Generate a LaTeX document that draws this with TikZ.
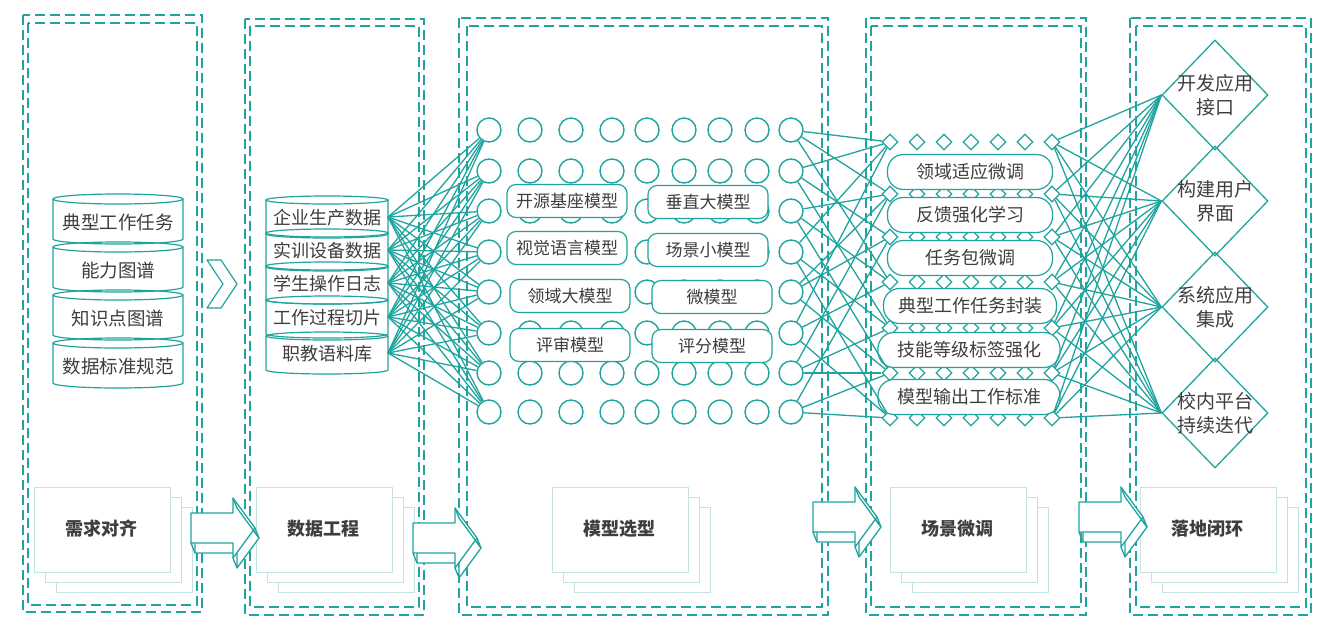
\documentclass[tikz,border=0pt]{standalone}
\usepackage{fontspec}
\setmainfont{Noto Sans CJK SC}
\usetikzlibrary{shapes.geometric}
\definecolor{teal1}{RGB}{32,164,159}
\definecolor{pagec}{RGB}{196,228,227}
\definecolor{txt}{RGB}{62,62,62}
\tikzset{
  panelbox/.style={draw=teal1, line width=1.8pt, dash pattern=on 10pt off 5pt},
  circ/.style={circle, draw=teal1, line width=1.4pt, fill=white, minimum size=24pt, inner sep=0pt},
  modelbox/.style={draw=teal1, line width=1.2pt, fill=white, rounded corners=9pt, minimum width=120pt, minimum height=33pt, inner sep=0pt, font=\fontsize{17}{20}\selectfont, text=txt},
  smalldia/.style={diamond, draw=teal1, line width=1.2pt, fill=white, minimum width=16pt, minimum height=16pt, inner sep=0pt},
  tunebox/.style={draw=teal1, line width=1.2pt, fill=white, rounded corners=16pt, minimum height=35pt, inner sep=0pt, font=\fontsize{18}{20}\selectfont, text=txt},
  link/.style={draw=teal1, line width=1.3pt},
  page/.style={draw=pagec, line width=1pt, fill=white},
  stagelabel/.style={font=\bfseries\fontsize{18}{20}\selectfont, text=txt},
  cyltext/.style={font=\fontsize{18.5}{20}\selectfont, text=txt, inner sep=0pt},
  cylline/.style={draw=teal1, line width=1.2pt},
  bigdia/.style={diamond, draw=teal1, line width=1.3pt, minimum width=106pt, minimum height=110pt, inner sep=0pt},
  diatext/.style={font=\fontsize{19}{24}\selectfont, text=txt, align=center, inner sep=0pt},
  arrowline/.style={draw=teal1, line width=1.3pt, line join=round}
}
\newcommand\blockarrow[2]{%
  \begin{scope}[shift={(#1,#2)}]
    \draw[arrowline, fill=white] (4,-5) -- (46,-5) -- (46,-20) -- (68,10) -- (46,40) -- (46,25) -- (4,25) -- cycle;
    \draw[arrowline, fill=white] (0,-15) -- (42,-15) -- (42,-30) -- (64,0) -- (42,30) -- (42,15) -- (0,15) -- cycle;
    \draw[arrowline] (0,15) -- (4,25) (42,30) -- (46,40) (64,0) -- (68,10) (42,-30) -- (46,-20) -- (68,10);
  \end{scope}}
\begin{document}
\begin{tikzpicture}[x=1pt,y=-1pt]
\useasboundingbox (0,0) rectangle (1332,630);
\fill[white] (0,0) rectangle (1332,630);

% panels
\foreach \ox/\oy/\oX/\oY/\ix/\iy/\iX/\iY in {23/15/202/612/28/23/197/605, 245/19/424/615/250/26/419/607, 459/18/828/615/467/26/822/607, 866/18/1086/615/871/26/1081/607, 1130/18/1311/615/1136/26/1306/607}
{
  \draw[panelbox] (\ox,\oy) rectangle (\oX,\oY);
  \draw[panelbox] (\ix,\iy) rectangle (\iX,\iY);
}

% page stacks
\foreach \x/\y/\t [count=\i] in {34/487/需求对齐, 256/487/数据工程, 552/487/模型选型, 890/487/场景微调, 1140/487/落地闭环}
{
  \draw[page] ({\x+22},{\y+20}) rectangle ++(136,85);
  \draw[page] ({\x+11},{\y+10}) rectangle ++(136,85);
  \draw[page] (\x,\y) rectangle ++(136,85);
  \node[stagelabel] (stage\i) at ({\x+67},{\y+42}) {\t};
}

% panel 1 cylinders
\foreach \yc/\t [count=\i] in {220/典型工作任务, 268/能力图谱, 316/知识点图谱, 364/数据标准规范}
{
  \draw[cylline] (53,{\yc-21}) -- (53,{\yc+19}) arc[start angle=180, end angle=0, x radius=65, y radius=5] -- (183,{\yc-21});
  \draw[cylline] (118,{\yc-21}) ellipse[x radius=65, y radius=5];
  \node[cyltext] (req\i) at (118,{\yc+2}) {\t};
}

% panel 2 cylinders
\foreach \yc/\t [count=\i] in {217/企业生产数据, 250/实训设备数据, 283/学生操作日志, 317/工作过程切片, 353/职教语料库}
{
  \draw[cylline] (266,{\yc-17}) -- (266,{\yc+17}) arc[start angle=180, end angle=0, x radius=61, y radius=4] -- (388,{\yc-17});
  \draw[cylline] (327,{\yc-17}) ellipse[x radius=61, y radius=4];
  \node[cyltext, font=\fontsize{18}{20}\selectfont] (dat\i) at (327,{\yc+1}) {\t};
  \coordinate (dat\i r) at (388,\yc);
}

% circle grid
\foreach \y [count=\ri] in {130,171,211,252,292,333,373,412}
  \foreach \x [count=\ci] in {489,530,571,612,647,684,720,757,791}
    \node[circ] (c-\ri-\ci) at (\x,\y) {};

% model boxes
\node[modelbox] (mb1) at (567,201) {开源基座模型};
\node[modelbox] (mb2) at (708,202) {垂直大模型};
\node[modelbox] (mb3) at (567,248) {视觉语言模型};
\node[modelbox] (mb4) at (708,250) {场景小模型};
\node[modelbox] (mb5) at (570,296) {领域大模型};
\node[modelbox] (mb6) at (712,297) {微模型};
\node[modelbox] (mb7) at (570,345) {评审模型};
\node[modelbox] (mb8) at (712,346) {评分模型};

% diamond grid panel 4
\foreach \y [count=\ri] in {142,194,237,282,328,373,418}
  \foreach \x [count=\ci] in {890,917,944,971,998,1025,1052}
    \node[smalldia] (q-\ri-\ci) at (\x,\y) {};

% tuning boxes
\node[tunebox, minimum width=165pt] (tb1) at (970,172) {领域适应微调};
\node[tunebox, minimum width=165pt] (tb2) at (970,215) {反馈强化学习};
\node[tunebox, minimum width=165pt] (tb3) at (970,258) {任务包微调};
\node[tunebox, minimum width=173pt] (tb4) at (970,306) {典型工作任务封装};
\node[tunebox, minimum width=182pt] (tb5) at (969,350) {技能等级标签强化};
\node[tunebox, minimum width=182pt] (tb6) at (969,397) {模型输出工作标准};

% big diamonds panel 5
\node[bigdia] (D1) at (1215,95) {};
\node[bigdia] (D2) at (1215,201) {};
\node[bigdia] (D3) at (1215,307) {};
\node[bigdia] (D4) at (1215,413) {};
\node[diatext] (D1t) at (1215,95) {开发应用\\接口};
\node[diatext] (D2t) at (1215,201) {构建用户\\界面};
\node[diatext] (D3t) at (1215,307) {系统应用\\集成};
\node[diatext] (D4t) at (1215,413) {校内平台\\持续迭代};

% links panel 2 -> panel 3
\foreach \i in {1,...,5}
  \foreach \ri in {1,...,8}
    \draw[link] (dat\i r) -- (c-\ri-1);

% links panel 3 -> panel 4
\foreach \ri/\a/\b/\cc in {1/1/2/4, 2/3/5/1, 3/2/4/6, 4/1/5/7, 5/3/6/2, 6/4/7/1, 7/5/2/6, 8/7/3/6}
{
  \draw[link] (c-\ri-9) -- (q-\a-1);
  \draw[link] (c-\ri-9) -- (q-\b-1);
  \draw[link] (c-\ri-9) -- (q-\cc-1);
}

% links panel 4 -> panel 5
\foreach \j in {1,...,7}
  \foreach \k in {1,...,4}
    \draw[link] (q-\j-7) -- (D\k.west);

% block arrows
\blockarrow{191}{528}
\blockarrow{413}{538}
\blockarrow{813}{517}
\blockarrow{1079}{517}

% chevron
\draw[arrowline, line width=1.2pt] (207,260) -- (221,260) -- (237,284) -- (221,308) -- (207,308) -- (223,284) -- cycle;

\end{tikzpicture}
\end{document}
